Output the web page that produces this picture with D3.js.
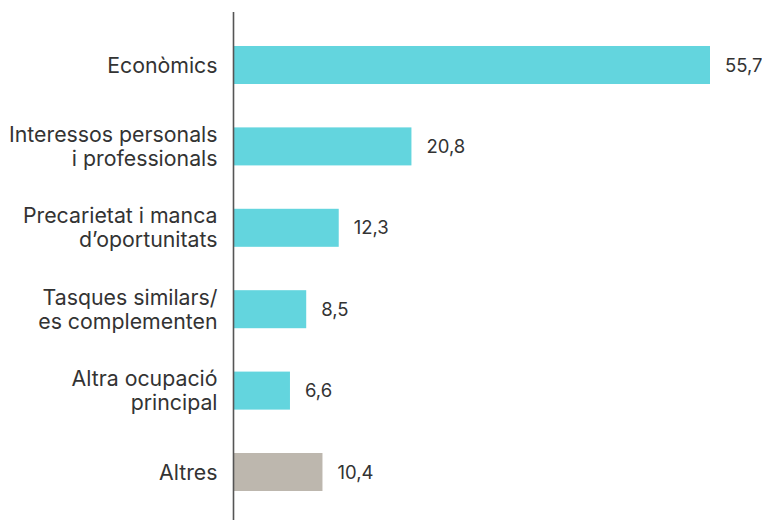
<!DOCTYPE html>
<html>
<head>
<meta charset="utf-8">
<script src="https://cdn.jsdelivr.net/npm/d3@7"></script>
<style>
  body { margin: 0; background: #fff; }
  svg text { font-family: Inter, "Open Sans", sans-serif; fill: #333; }
</style>
</head>
<body>
<div id="chart"></div>
<script>
// data
const categories = [
  "Econòmics",
  "Interessos personals\ni professionals",
  "Precarietat i manca\nd’oportunitats",
  "Tasques similars/\nes complementen",
  "Altra ocupació\nprincipal",
  "Altres"
];
const values = [55.7, 20.8, 12.3, 8.5, 6.6, 10.4];
const barColors = ["#63d5de", "#63d5de", "#63d5de", "#63d5de", "#63d5de", "#bdb7ae"];

const width = 762, height = 520;
const axisX = 233.5;

const svg = d3.select("#chart").append("svg")
    .attr("width", width).attr("height", height);

const x = d3.scaleLinear().domain([0, 55.7]).range([axisX, 710]);
const step = (472 - 65) / 5;
const y = d3.scaleBand().domain(categories)
    .range([65 - step / 2, 472 + step / 2])
    .paddingInner(0.533).paddingOuter(0.533 / 2);

const fmt = v => d3.format(".1f")(v).replace(".", ",");

svg.selectAll("rect.bar")
  .data(values)
  .join("rect")
    .attr("class", "bar")
    .attr("x", axisX)
    .attr("y", (d, i) => y(categories[i]))
    .attr("width", d => x(d) - axisX)
    .attr("height", y.bandwidth())
    .attr("fill", (d, i) => barColors[i]);

svg.selectAll("text.val")
  .data(values)
  .join("text")
    .attr("class", "val")
    .attr("x", d => x(d) + 15)
    .attr("y", (d, i) => y(categories[i]) + y.bandwidth() / 2)
    .attr("dy", "0.36em")
    .style("font-size", "18.5px")
    .text(fmt);

// category labels through axis
const yAxis = d3.axisLeft(y).tickSize(0).tickPadding(16).tickFormat("");
const gy = svg.append("g").attr("transform", `translate(${axisX},0)`).call(yAxis);
gy.select(".domain").remove();
gy.selectAll(".tick").each(function(d) {
  const lines = d.split("\n");
  const t = d3.select(this).append("text")
      .attr("x", -16)
      .attr("text-anchor", "end")
      .style("font-size", "21.3px");
  const lh = 24;
  const off = -(lines.length - 1) * lh / 2;
  lines.forEach((l, k) => {
    t.append("tspan").attr("x", -16)
      .attr("y", off + k * lh)
      .attr("dy", "0.36em")
      .text(l);
  });
});

svg.append("line")
    .attr("x1", axisX).attr("x2", axisX)
    .attr("y1", 12).attr("y2", height)
    .attr("stroke", "#555").attr("stroke-width", 1.6);
</script>
</body>
</html>
